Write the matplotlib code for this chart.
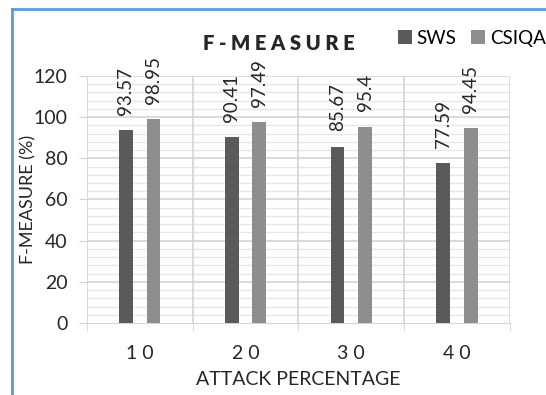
import numpy as np
import matplotlib.pyplot as plt
from matplotlib.lines import Line2D
from matplotlib.ticker import MultipleLocator

plt.rcParams['font.family'] = ['Lato', 'DejaVu Sans']

# DATA
attack = ['10', '20', '30', '40']
sws = [93.57, 90.41, 85.67, 77.59]
csiqa = [98.95, 97.49, 95.4, 94.45]
sws_labels = ['93.57', '90.41', '85.67', '77.59']
csiqa_labels = ['98.95', '97.49', '95.4', '94.45']

fig = plt.figure(figsize=(5.46, 3.95), dpi=100)
ax = fig.add_axes([0.159, 0.182, 0.775, 0.626])

x = np.arange(len(attack))
w = 0.13
off = 0.13
b1 = ax.bar(x - off, sws, w, color='#5a5a5a', label='SWS', zorder=3)
b2 = ax.bar(x + off, csiqa, w, color='#8e8e8e', label='CSIQA', zorder=3)

for bars, labs in ((b1, sws_labels), (b2, csiqa_labels)):
    for b, t in zip(bars, labs):
        ax.annotate(t, (b.get_x() + b.get_width() / 2, b.get_height()),
                    xytext=(0, 11), textcoords='offset points',
                    rotation=90, ha='center', va='bottom', fontsize=13.5,
                    color='#262626', annotation_clip=False)

ax.set_xlim(-0.5, len(attack) - 0.5)
ax.set_ylim(0, 120)
ax.yaxis.set_major_locator(MultipleLocator(20))

# minor and major horizontal grid
for yv in np.arange(4, 120.1, 4):
    if yv % 20:
        ax.axhline(yv, color='#e6e6e6', linewidth=1, zorder=0)
for yv in np.arange(20, 120.1, 20):
    ax.axhline(yv, color='#d4d4d4', linewidth=1.2, zorder=1)

# category boundaries as vertical grid
for xb in np.arange(-0.5, len(attack), 1.0):
    ax.axvline(xb, color='#d4d4d4', linewidth=1.2, zorder=1)

ax.set_xticks(x)
ax.set_xticklabels([' '.join(a) for a in attack], fontsize=14, color='#262626')
ax.set_xticks(np.arange(-0.5, len(attack), 1.0), minor=True)
ax.tick_params(axis='x', which='major', length=0, pad=16)
ax.tick_params(axis='x', which='minor', length=6, color='#d4d4d4')
ax.tick_params(axis='y', which='major', length=6, color='#d4d4d4',
               labelsize=14, labelcolor='#262626', pad=8)

for s in ax.spines.values():
    s.set_visible(False)
ax.spines['bottom'].set_visible(True)
ax.spines['bottom'].set_color('#d4d4d4')

ax.set_xlabel('ATTACK PERCENTAGE', fontsize=14, color='#262626', labelpad=6)
ax.set_ylabel('F-MEASURE (%)', fontsize=13, color='#262626', labelpad=-2)

fig.text(0.51, 0.891, 'F - M E A S U R E', fontsize=14.5, fontweight='heavy',
         ha='center', va='center', color='#262626')

ax.legend(loc='center', bbox_to_anchor=(0.91, 1.153), ncol=2, frameon=False,
          fontsize=13.5, handlelength=0.75, handleheight=0.75, handletextpad=0.25,
          columnspacing=0.8, borderaxespad=0)

# chart frame (blue)
fig.add_artist(Line2D([0.022, 0.022], [0, 0.977], color='#5b9bd5', linewidth=2))
fig.add_artist(Line2D([0.022, 1.0], [0.977, 0.977], color='#5b9bd5', linewidth=2))

plt.savefig('out.png', dpi=100)
